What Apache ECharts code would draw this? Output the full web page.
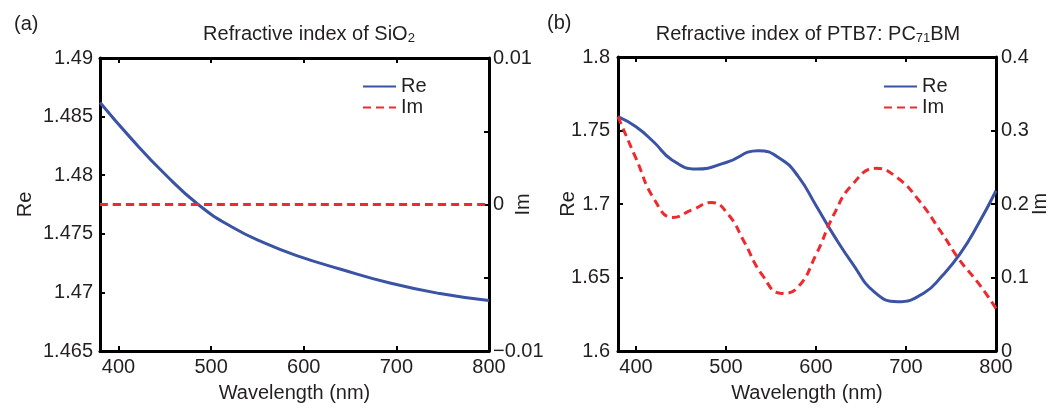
<!DOCTYPE html>
<html>
<head>
<meta charset="utf-8">
<title>Refractive index</title>
<script src="https://cdn.jsdelivr.net/npm/echarts@6/dist/echarts.min.js"></script>
<style>
  html, body { margin: 0; padding: 0; background: #fff; }
  #chart { width: 1063px; height: 408px; }
</style>
</head>
<body>
<div id="chart"></div>
<script>
// 資料 (從圖上讀取的估計值)
const xTicks = [400, 500, 600, 700, 800];

// (a) SiO2
const sio2Wavelength = [380, 414, 450, 486, 522, 558, 594, 639, 693, 747, 800];
const sio2Re = [1.4862, 1.4831, 1.4801, 1.4775, 1.4756, 1.4742, 1.4731, 1.4720, 1.4708, 1.4699, 1.4693];
const sio2Im = [0, 0, 0, 0, 0, 0, 0, 0, 0, 0, 0];

// (b) PTB7: PC71BM
const ptbReWavelength = [380, 400, 420, 440, 467, 500, 536, 560, 580, 600, 620, 640, 665, 691, 720, 740, 760, 780, 800];
const ptbRe = [1.7594, 1.7525, 1.7420, 1.7300, 1.7238, 1.7282, 1.7363, 1.7310, 1.7190, 1.6990, 1.6785, 1.6600, 1.6400, 1.6335, 1.6395, 1.6510, 1.6660, 1.6860, 1.7090];
const ptbImWavelength = [380, 400, 420, 441, 462, 484, 503, 520, 540, 562, 580, 600, 620, 640, 667, 690, 714, 740, 760, 780, 800];
const ptbIm = [0.3188, 0.2620, 0.2070, 0.1818, 0.1918, 0.2020, 0.1850, 0.1490, 0.1040, 0.0784, 0.0870, 0.1310, 0.1860, 0.2260, 0.2485, 0.2360, 0.2054, 0.1600, 0.1230, 0.0930, 0.0580];

const FONT = "'Liberation Sans', Arial, sans-serif";
const TEXT_COLOR = '#231f20';
const RE_COLOR = '#3a53a4';
const IM_COLOR = '#ee2a2e';

function zip(xs, ys) {
    return xs.map((x, i) => [x, ys[i]]);
}

function fmt(v) {
    return String(parseFloat(v.toFixed(4)));
}

// 共用的軸樣式
const lineStyle = { color: '#000', width: 3 };
const tickStyle = { show: true, inside: true, length: 5, lineStyle: { color: '#000', width: 2 } };
const labelStyle = { color: TEXT_COLOR, fontSize: 20, fontFamily: FONT };
const nameStyle = { color: TEXT_COLOR, fontSize: 20, fontFamily: FONT };

function bottomAxis(gridIndex) {
    return {
        type: 'value', gridIndex, min: 380, max: 800,
        name: 'Wavelength (nm)', nameLocation: 'middle', nameGap: 32, nameTextStyle: nameStyle,
        axisLine: { onZero: false, lineStyle },
        axisTick: { ...tickStyle, customValues: xTicks },
        axisLabel: { ...labelStyle, margin: 6, customValues: xTicks },
        splitLine: { show: false }
    };
}

function topAxis(gridIndex) {
    return {
        type: 'value', gridIndex, min: 380, max: 800, position: 'top',
        axisLine: { onZero: false, lineStyle },
        axisTick: { ...tickStyle, customValues: xTicks },
        axisLabel: { show: false },
        splitLine: { show: false }
    };
}

function yAxis(gridIndex, position, min, max, interval, name, nameGap, margin, formatter) {
    return {
        type: 'value', gridIndex, position, min, max, interval,
        name, nameLocation: 'middle', nameRotate: 90, nameGap, nameMoveOverlap: false,
        nameTextStyle: nameStyle,
        axisLine: { show: true, onZero: false, lineStyle },
        axisTick: tickStyle,
        axisLabel: { ...labelStyle, margin, formatter: formatter || fmt },
        splitLine: { show: false }
    };
}

// SiO2 右軸只標 -0.01, 0, 0.01
function imLabelA(v) {
    if (Math.abs(v) < 1e-9) return '0';
    if (Math.abs(v - 0.01) < 1e-9) return '0.01';
    if (Math.abs(v + 0.01) < 1e-9) return '\u22120.01';
    return '';
}

const titleText = { color: TEXT_COLOR, fontSize: 20, fontFamily: FONT, fontWeight: 'normal',
    rich: { sub: { fontSize: 13, fontFamily: FONT, color: TEXT_COLOR, verticalAlign: 'bottom', padding: [8, 0, 0, 0] } } };

function legendAt(left) {
    return {
        left, top: 76, orient: 'vertical', padding: 0,
        itemWidth: 33, itemHeight: 14, itemGap: 0,
        itemStyle: { opacity: 0 },
        textStyle: { ...labelStyle, lineHeight: 21 },
        data: ['Re', 'Im']
    };
}

function curve(name, xAxisIndex, yAxisIndex, data, color, dashed) {
    return {
        name, type: 'line', xAxisIndex, yAxisIndex, data,
        smooth: 0.5, symbol: 'none',
        lineStyle: { color, width: 3, type: dashed ? [8, 5] : 'solid' },
        itemStyle: { color }
    };
}

const option = {
    animation: false,
    backgroundColor: '#fff',
    title: [
        { text: '(a)', left: 9, top: 9, textStyle: { ...titleText } },
        { text: '(b)', left: 542, top: 8, textStyle: { ...titleText } },
        { text: 'Refractive index of SiO{sub|2}', left: 304, top: 19, textAlign: 'center', textStyle: titleText },
        { text: 'Refractive index of PTB7: PC{sub|71}BM', left: 803, top: 19, textAlign: 'center', textStyle: titleText }
    ],
    legend: [legendAt(362), legendAt(883)],
    grid: [
        { left: 100, top: 58, width: 389, height: 293 },
        { left: 618, top: 57, width: 378, height: 294 }
    ],
    xAxis: [bottomAxis(0), topAxis(0), bottomAxis(1), topAxis(1)],
    yAxis: [
        yAxis(0, 'left', 1.465, 1.49, 0.005, 'Re', 65, 7),
        yAxis(0, 'right', -0.01, 0.01, 0.005, 'Im', 24, 4, imLabelA),
        yAxis(1, 'left', 1.6, 1.8, 0.05, 'Re', 40, 8),
        yAxis(1, 'right', 0, 0.4, 0.1, 'Im', 34, 5)
    ],
    series: [
        curve('Re', 0, 0, zip(sio2Wavelength, sio2Re), RE_COLOR, false),
        curve('Im', 0, 1, zip(sio2Wavelength, sio2Im), IM_COLOR, true),
        curve('Re', 2, 2, zip(ptbReWavelength, ptbRe), RE_COLOR, false),
        curve('Im', 2, 3, zip(ptbImWavelength, ptbIm), IM_COLOR, true)
    ]
};

const chart = echarts.init(document.getElementById('chart'), null, { renderer: 'canvas' });
chart.setOption(option);
</script>
</body>
</html>
